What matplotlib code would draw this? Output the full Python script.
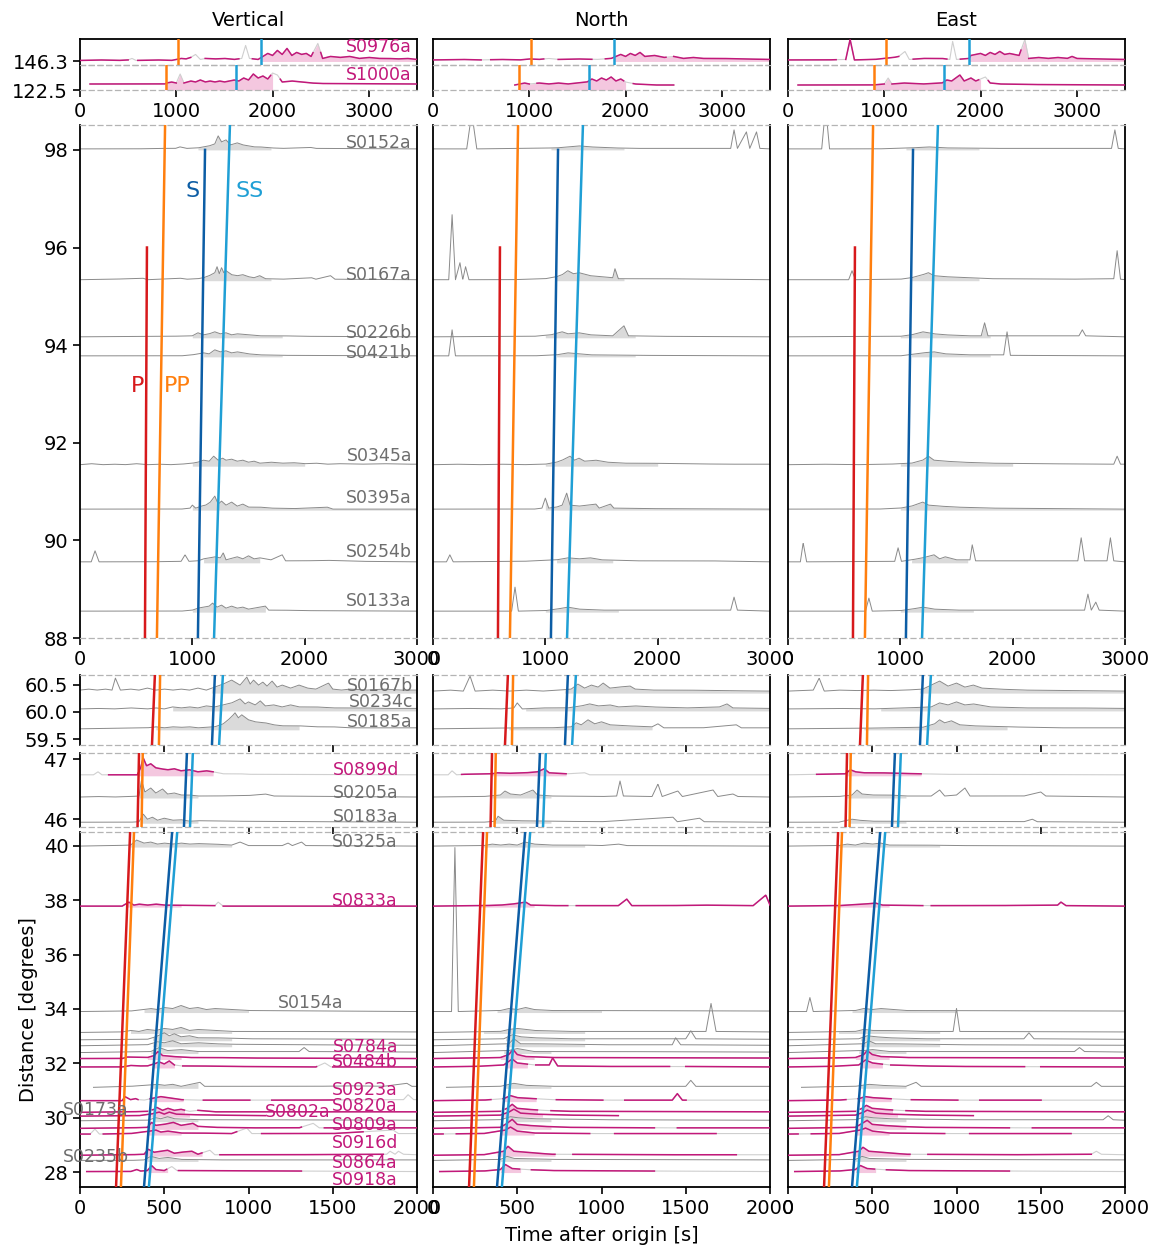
import numpy as np
import matplotlib.pyplot as plt

W, H = 1156, 1249
comps = ['Vertical', 'North', 'East']

# travel-time curves (distance [deg], time [s])
p_dist = [27.3, 40.6, 45.8, 47.2, 59.3, 60.8, 87.9, 96.0]
p_time = [213, 298, 341, 351, 426, 446, 578, 596]
pp_dist = [27.3, 40.6, 45.8, 47.2, 59.3, 60.8, 87.9, 98.6, 122.5, 146.3]
pp_time = [242, 321, 365, 373, 468, 476, 684, 758, 893, 1018]
s_dist = [27.3, 40.6, 45.8, 47.2, 59.3, 60.8, 87.9, 98.0]
s_time = [378, 548, 616, 636, 782, 802, 1049, 1113]
ss_dist = [27.3, 40.6, 45.8, 47.2, 59.3, 60.8, 87.9, 98.6, 122.5, 146.3]
ss_time = [407, 578, 652, 671, 824, 850, 1192, 1336, 1620, 1880]

# ---- top row (far events) ----
a_names = ['S0976a', 'S1000a']
a_dist = [146.3, 122.5]
a_good = [1, 1]
a_fill = [(1880, 3500), (880, 2000)]
a_valid = [[(0, 500), (600, 1150), (1300, 1650), (1790, 2420), (2500, 3500)],
           [(104, 1000), (1080, 1980), (2080, 3500)]]
a_vert = [
    [0, 1, 200, 1.5, 400, 1, 500, 1.5, 540, 3, 580, 1, 800, 1.5, 950, 1, 1000, 2, 1050, 3, 1100, 2.5, 1150, 4,
     1200, 7, 1250, 2, 1300, 3, 1400, 2.5, 1500, 3, 1600, 2, 1680, 3, 1720, 16, 1760, 3, 1850, 2, 1900, 5,
     1950, 8, 2000, 6, 2050, 11, 2100, 7, 2150, 13, 2200, 6, 2250, 9, 2300, 7, 2350, 8, 2400, 5, 2470, 18,
     2520, 3, 2600, 5, 2700, 4, 2800, 5, 2900, 3, 3000, 4, 3100, 3, 3200, 3, 3300, 2.5, 3400, 3, 3500, 2],
    [104, 6, 880, 6, 900, 7, 950, 8, 1000, 7, 1040, 16, 1080, 7, 1150, 9, 1200, 8, 1250, 10, 1300, 8,
     1350, 9, 1400, 8, 1450, 9, 1500, 8, 1550, 9, 1600, 10, 1650, 9, 1700, 12, 1750, 10, 1800, 16, 1850, 12,
     1900, 14, 1950, 11, 2000, 17, 2050, 15, 2100, 8, 2200, 9, 2300, 8, 2400, 7, 2500, 6.5, 3500, 6],
]
a_north = [
    [0, 1.5, 300, 2, 500, 1.5, 700, 2, 900, 1.5, 1000, 2.5, 1100, 2, 1200, 3, 1300, 2, 1500, 2.5, 1700, 2,
     1850, 3, 1900, 5, 1950, 7, 2000, 5, 2050, 8, 2100, 6, 2150, 9, 2200, 5, 2300, 6, 2400, 4, 2500, 5,
     2600, 3, 2700, 4, 2800, 3, 3000, 3, 3200, 2.5, 3500, 2],
    [850, 5, 900, 6, 950, 7, 1000, 6, 1100, 7, 1200, 6, 1300, 7, 1400, 6, 1500, 7, 1600, 8, 1650, 11,
     1700, 9, 1750, 12, 1800, 10, 1850, 13, 1900, 9, 1950, 11, 2000, 8, 2100, 6, 2300, 5, 2500, 5],
]
a_east = [
    [0, 1.5, 400, 1.5, 600, 2, 645, 22, 690, 1.5, 900, 2, 1000, 3, 1100, 4, 1150, 5, 1215, 10, 1260, 2,
     1400, 3, 1600, 3, 1680, 2, 1710, 20, 1750, 2, 1880, 3, 1900, 6, 1950, 7, 2000, 8, 2050, 6, 2100, 9,
     2150, 7, 2200, 10, 2250, 7, 2300, 8, 2400, 6, 2460, 22, 2500, 3, 2600, 4, 2700, 3, 2800, 4, 2900, 3,
     2950, 5, 3000, 3, 3200, 2.5, 3500, 2],
    [104, 5, 880, 5, 1000, 6, 1040, 12, 1080, 6, 1200, 7, 1400, 6, 1600, 7, 1650, 10, 1700, 9, 1785, 15,
     1830, 9, 1900, 12, 1950, 9, 2000, 11, 2050, 13, 2100, 7, 2200, 6, 2500, 5.5, 3500, 5],
]

# ---- 88-98 deg ----
b_names = ['S0152a', 'S0167a', 'S0226b', 'S0421b', 'S0345a', 'S0395a', 'S0254b', 'S0133a']
b_dist = [98.0, 95.32, 94.15, 93.76, 91.52, 90.62, 89.54, 88.53]
b_good = [0] * 8
b_fill = [(1050, 1700), (1100, 1700), (1000, 1800), (1100, 1800), (1000, 2000), (1000, 3000),
          (1100, 1600), (1000, 1650)]
b_vert = [
    [0, 1, 500, 1, 700, 1.5, 850, 1.5, 890, 3, 950, 1.5, 1050, 2, 1100, 3, 1150, 4, 1200, 6, 1230, 14, 1260, 8,
     1300, 10, 1340, 5, 1400, 7, 1450, 5, 1500, 4, 1550, 3, 1600, 3, 1700, 2, 1800, 1.5, 2050, 2.5, 2100, 1.5,
     3000, 1],
    [0, 1, 300, 1.5, 560, 2.5, 600, 1, 890, 2.5, 950, 1.5, 1050, 2, 1100, 3, 1150, 5, 1200, 8, 1220, 14,
     1240, 7, 1260, 13, 1280, 8, 1300, 10, 1350, 6, 1400, 5, 1450, 6, 1500, 4, 1550, 3, 1600, 5, 1650, 2,
     1800, 1.5, 2060, 3, 2100, 1.5, 2230, 5, 2270, 1.5, 3000, 1],
    [0, 1, 800, 1.5, 1000, 2, 1050, 5, 1100, 3, 1150, 4, 1200, 6, 1250, 4, 1300, 5, 1350, 3, 1400, 4,
     1500, 3, 1600, 2, 1800, 2, 2000, 1.5, 3000, 1],
    [0, 1, 900, 1, 1000, 2, 1100, 4, 1150, 3, 1200, 7, 1250, 5, 1300, 6, 1350, 4, 1400, 5, 1500, 3, 1600, 2,
     1800, 1.5, 3000, 1],
    [0, 1.5, 100, 2.5, 200, 1.5, 300, 2, 400, 1.5, 500, 2.5, 600, 1.5, 700, 2, 800, 1.5, 900, 2, 1000, 3,
     1050, 4, 1100, 6, 1150, 5, 1190, 10, 1230, 6, 1270, 8, 1300, 6, 1350, 7, 1400, 5, 1450, 6, 1500, 4,
     1550, 5, 1600, 3, 1700, 4, 1800, 3, 1900, 3.5, 2000, 2.5, 2100, 3, 2200, 2, 2300, 2.5, 2500, 2, 2700, 2.5,
     2900, 2, 3000, 2],
    [0, 1, 900, 1, 980, 2, 1000, 5, 1030, 2, 1080, 4, 1120, 5, 1160, 8, 1200, 14, 1230, 6, 1260, 9, 1300, 5,
     1350, 8, 1400, 4, 1450, 6, 1500, 3, 1600, 3, 1700, 2, 1900, 1.5, 2200, 3, 2250, 1, 3000, 1],
    [0, 1, 100, 1, 134, 12, 170, 1, 400, 1, 600, 1, 900, 1.5, 935, 8, 970, 1.5, 1050, 2, 1100, 4, 1150, 5,
     1200, 6, 1250, 5, 1275, 10, 1300, 3, 1400, 6, 1450, 4, 1500, 7, 1550, 4, 1600, 5, 1700, 3, 1800, 8,
     1830, 2, 2000, 2, 2200, 2.5, 2500, 1.5, 3000, 1],
    [0, 1, 900, 1, 1000, 2, 1050, 4, 1100, 5, 1150, 6, 1180, 9, 1220, 5, 1260, 7, 1300, 4, 1350, 6, 1400, 4,
     1450, 5, 1500, 3, 1550, 4, 1650, 6, 1680, 2, 1800, 2, 2000, 1.5, 3000, 1],
]
b_north = [
    [0, 1, 300, 1, 330, 25, 360, 25, 390, 1, 800, 1.5, 1100, 2, 1200, 3, 1300, 4, 1400, 3, 1600, 2, 1800, 1.5,
     2650, 1.5, 2680, 20, 2710, 1.5, 2790, 18, 2820, 1.5, 2880, 18, 2910, 1.5, 3000, 1],
    [0, 1, 140, 1, 170, 66, 200, 1, 240, 18, 265, 1, 290, 14, 320, 1, 700, 1, 1000, 2, 1100, 4, 1150, 6,
     1200, 10, 1250, 7, 1300, 8, 1400, 5, 1500, 4, 1600, 3, 1620, 12, 1650, 2, 2000, 2, 2500, 1.5, 3000, 1],
    [0, 1, 900, 1.5, 1050, 3, 1150, 6, 1200, 4, 1300, 5, 1400, 3, 1600, 2, 1700, 12, 1740, 2, 2000, 1.5,
     3000, 1],
    [0, 1, 140, 1, 170, 27, 200, 1, 900, 1, 1100, 2, 1200, 4, 1300, 3, 1400, 2, 1800, 1.5, 3000, 1],
    [0, 1.5, 200, 2, 400, 1.5, 600, 2, 800, 1.5, 1000, 2, 1100, 4, 1150, 6, 1220, 10, 1260, 6, 1300, 8,
     1350, 5, 1450, 6, 1550, 4, 1700, 3, 1900, 3, 2200, 2.5, 2600, 2, 3000, 2],
    [0, 1, 900, 1, 970, 2, 1000, 12, 1030, 2, 1100, 3, 1150, 5, 1190, 17, 1220, 5, 1300, 4, 1450, 6,
     1480, 2, 1580, 6, 1610, 2, 1900, 1.5, 3000, 1],
    [0, 1, 120, 1, 150, 8, 180, 1, 800, 1.5, 1100, 3, 1200, 5, 1300, 4, 1400, 5, 1500, 3, 1800, 2, 2450, 2,
     3000, 1],
    [0, 1, 700, 1, 730, 25, 760, 1, 1000, 1.5, 1100, 3, 1200, 5, 1300, 3, 1500, 2, 2650, 2, 2680, 15,
     2710, 2, 3000, 1],
]
b_east = [
    [0, 1, 300, 1, 320, 25, 350, 25, 370, 1, 800, 1, 1100, 2, 1250, 3, 1400, 2, 1800, 1.5, 2880, 1.5,
     2910, 20, 2940, 1.5, 3000, 1],
    [0, 1, 540, 1, 570, 10, 600, 1, 1000, 1.5, 1100, 3, 1200, 6, 1250, 8, 1300, 5, 1400, 4, 1600, 3,
     1800, 2, 2500, 1.5, 2900, 2, 2930, 30, 2960, 1.5, 3000, 1],
    [0, 1, 1000, 1.5, 1100, 3, 1200, 6, 1300, 4, 1400, 3, 1600, 2, 1720, 2, 1750, 15, 1780, 2, 2590, 2,
     2620, 8, 2650, 2, 3000, 1],
    [0, 1, 1000, 1, 1200, 4, 1300, 5, 1400, 3, 1600, 2, 1920, 2, 1950, 25, 1980, 1.5, 3000, 1],
    [0, 1.5, 300, 2, 600, 1.5, 900, 2, 1100, 3, 1200, 6, 1250, 10, 1300, 6, 1400, 5, 1550, 4, 1800, 3,
     2200, 2.5, 2900, 2, 2930, 10, 2960, 2, 3000, 2],
    [0, 1, 800, 1, 1000, 2, 1100, 4, 1150, 6, 1200, 8, 1250, 5, 1350, 4, 1500, 3, 1800, 2, 3000, 1],
    [0, 1, 110, 1, 135, 20, 165, 1, 950, 1.5, 980, 15, 1010, 1.5, 1100, 3, 1200, 5, 1300, 8, 1350, 4,
     1400, 6, 1500, 3, 1620, 3, 1640, 18, 1670, 2, 2000, 2, 2580, 2, 2610, 25, 2640, 2, 2840, 2, 2870, 25,
     2900, 2, 3000, 1],
    [0, 1, 690, 1, 720, 14, 750, 1, 1000, 1.5, 1100, 3, 1200, 5, 1300, 3, 1500, 2, 2640, 2, 2670, 18,
     2700, 2, 2740, 10, 2770, 2, 3000, 1],
]

# ---- ~60 deg ----
c_names = ['S0167b', 'S0234c', 'S0185a']
c_dist = [60.35, 60.02, 59.67]
c_good = [0, 0, 0]
c_fill = [(780, 2000), (550, 2000), (450, 1300)]
c_vert = [
    [0, 3, 50, 4, 100, 3, 150, 4, 190, 3, 210, 15, 240, 3, 300, 4, 350, 3, 400, 5, 450, 3, 500, 4, 550, 3,
     600, 4, 650, 3, 700, 5, 750, 3, 800, 6, 850, 9, 900, 13, 950, 8, 990, 16, 1010, 9, 1030, 13, 1060, 8,
     1085, 11, 1110, 7, 1140, 12, 1170, 6, 1200, 8, 1250, 5, 1300, 8, 1350, 5, 1400, 4, 1475, 10, 1500, 4,
     1550, 3, 1600, 4, 1700, 3, 1800, 4, 1900, 3, 2000, 3],
    [0, 2, 100, 2.5, 200, 2, 300, 3, 400, 2, 450, 3, 500, 2, 550, 4, 600, 3, 650, 4, 700, 3, 750, 5, 800, 4,
     850, 6, 900, 8, 950, 12, 980, 7, 1000, 9, 1040, 6, 1070, 10, 1100, 5, 1150, 6, 1200, 4, 1250, 6,
     1300, 4, 1400, 4, 1500, 3, 1600, 3, 1700, 3, 1800, 2.5, 2000, 2.5],
    [0, 1, 200, 1.5, 400, 2, 450, 3, 500, 2, 550, 3, 600, 2.5, 650, 3, 700, 2, 750, 2.5, 800, 3, 850, 6,
     880, 10, 905, 14, 920, 17, 940, 12, 960, 15, 1000, 10, 1040, 8, 1100, 7, 1150, 5, 1200, 4, 1300, 4,
     1400, 3, 1500, 3, 1600, 2, 2000, 2],
]
c_north = [
    [0, 2, 100, 3, 180, 2, 220, 17, 250, 2, 350, 3, 450, 2, 550, 3, 650, 2, 750, 3, 820, 4, 860, 9, 900, 5,
     940, 8, 980, 6, 1010, 10, 1050, 5, 1100, 6, 1170, 7, 1200, 4, 1300, 3, 1500, 3, 1700, 2.5, 2000, 2],
    [0, 2, 200, 2.5, 400, 2, 480, 3, 500, 8, 530, 2, 650, 3, 800, 3, 880, 5, 930, 7, 980, 5, 1050, 6,
     1100, 4, 1200, 5, 1300, 4, 1500, 3, 1700, 4, 1745, 7, 1780, 3, 2000, 2.5],
    [0, 1, 300, 1.5, 500, 2, 700, 2, 820, 3, 850, 7, 880, 5, 920, 10, 960, 6, 1000, 8, 1050, 5, 1150, 4,
     1300, 3, 1335, 6, 1370, 2, 1600, 2, 1800, 5, 1830, 2, 2000, 2],
]
c_east = [
    [0, 2, 150, 3, 185, 15, 215, 2, 300, 3, 400, 2.5, 500, 3, 600, 2.5, 700, 3, 800, 4, 850, 8, 900, 12,
     950, 7, 1000, 10, 1050, 6, 1100, 8, 1150, 5, 1250, 4, 1400, 3, 1700, 2.5, 2000, 2],
    [0, 2, 300, 2.5, 500, 2, 700, 3, 850, 4, 900, 8, 950, 6, 1000, 9, 1050, 6, 1100, 7, 1200, 4, 1400, 3,
     1700, 3, 2000, 2.5],
    [0, 1, 400, 1.5, 600, 2, 800, 2.5, 870, 6, 900, 10, 930, 7, 970, 9, 1020, 5, 1100, 4, 1300, 3, 1600, 2,
     2000, 2],
]

# ---- ~46-47 deg ----
d_names = ['S0899d', 'S0205a', 'S0183a']
d_dist = [46.72, 46.35, 45.93]
d_good = [1, 0, 0]
d_fill = [(350, 790), (350, 700), (360, 700)]
d_valid = [[(170, 790)], None, None]
d_vert = [
    [0, 1, 80, 1, 107, 4, 130, 1, 166, 1, 340, 1, 360, 8, 375, 18, 395, 10, 420, 12, 450, 8, 480, 7, 520, 6,
     560, 7, 600, 5, 650, 6, 700, 4, 750, 5, 790, 4, 850, 2, 950, 2, 1000, 1.5, 2000, 1],
    [0, 1, 100, 1.5, 200, 1, 300, 1.5, 350, 2, 365, 18, 385, 6, 420, 10, 450, 5, 490, 9, 520, 4, 560, 5,
     600, 3, 650, 3, 700, 2, 800, 2, 1000, 2.5, 1100, 4, 1150, 2, 1500, 1.5, 2000, 1],
    [0, 1, 300, 1, 350, 1.5, 376, 9, 400, 4, 430, 6, 460, 3, 500, 5, 550, 3, 600, 3.5, 650, 2, 700, 2.5,
     900, 2, 1500, 1.5, 2000, 1],
]
d_north = [
    [0, 1, 90, 1, 113, 5, 140, 1, 178, 1.5, 350, 2, 380, 3, 450, 2.5, 550, 3, 620, 4, 660, 7, 690, 3,
     795, 2, 900, 3, 930, 1, 2000, 1],
    [0, 1, 300, 1.5, 400, 3, 427, 7, 460, 4, 520, 3, 593, 8, 620, 3, 700, 2, 1000, 1.5, 1090, 2, 1110, 17,
     1130, 2, 1300, 1.5, 1335, 14, 1360, 1.5, 1453, 7, 1480, 1.5, 1662, 8, 1690, 1.5, 1780, 4, 1810, 1.5,
     2000, 1],
    [0, 1, 300, 1, 370, 2, 386, 7, 420, 3, 500, 2.5, 700, 2, 1000, 1.5, 1424, 6, 1450, 1.5, 1582, 5,
     1610, 1.5, 2000, 1],
]
d_east = [
    [0, 1, 178, 1.5, 340, 2, 370, 6, 400, 4, 450, 3, 550, 3, 650, 2.5, 784, 2, 900, 1.5, 2000, 1],
    [0, 1, 300, 1.5, 380, 3, 410, 8, 440, 4, 500, 3, 600, 3, 700, 2, 850, 2, 900, 8, 930, 2, 1000, 3,
     1050, 10, 1080, 2, 1200, 2, 1400, 2, 1500, 6, 1530, 2, 2000, 1],
    [0, 1, 300, 1, 380, 4, 420, 3, 500, 2, 700, 2, 1400, 1.5, 1450, 4, 1480, 1.5, 2000, 1],
]

# ---- 28-40 deg ----
e_names = ['S0325a', 'S0833a', 'S0154a', '', '', '', '', 'S0784a', 'S0484b', '', 'S0923a', 'S0820a',
           'S0802a', 'S0173a', 'S0809a', 'S0916d', 'S0864a', 'S0235b', 'S0918a']
e_dist = [39.96, 37.75, 33.87, 33.1, 32.83, 32.61, 32.36, 32.14, 31.83, 31.08, 30.59, 30.16,
          30.02, 29.85, 29.57, 29.36, 28.58, 28.39, 27.98]
e_good = [0, 1, 0, 0, 0, 0, 0, 1, 1, 0, 1, 1, 1, 0, 1, 1, 1, 0, 1]
e_fill = [(300, 900), (280, 600), (380, 1000), (300, 900), (430, 900), (430, 900), (420, 700),
          (400, 600), (430, 560), (430, 700), (420, 613), (430, 620), (420, 650), (430, 700),
          (400, 700), (400, 600), (380, 725), (400, 700), (400, 520)]
e_valid = [None, [(0, 800), (850, 2000)], None, None, None, None, None, [(0, 2000)],
           [(0, 560), (610, 1405), (1500, 2000)], None,
           [(0, 345), (415, 613), (731, 1009), (1137, 1502)], [(0, 400), (430, 620), (700, 2000)],
           [(0, 1100)], None, [(0, 1315), (1450, 2000)], [(0, 60), (138, 930), (1078, 1680)],
           [(0, 725), (830, 1800)], None, [(40, 515), (583, 1315)]]
e_vert = [
    [0, 1, 200, 1.5, 300, 2, 336, 7, 380, 4, 420, 5, 460, 3, 500, 4, 550, 3, 600, 4, 650, 3, 700, 3.5,
     800, 3, 900, 2, 950, 5, 1000, 1.5, 1200, 1.5, 1235, 4, 1260, 1.5, 1315, 5, 1340, 1.5, 2000, 1],
    [0, 1, 250, 1, 290, 5, 320, 2, 350, 3, 400, 2, 450, 3, 500, 2, 800, 1.5, 820, 5, 850, 1, 2000, 1],
    [0, 1, 300, 1.5, 380, 3, 420, 4, 460, 3, 500, 5, 550, 4, 600, 7, 650, 4, 700, 5, 750, 3, 800, 4,
     900, 3, 1000, 2, 1500, 1.5, 2000, 1],
    [0, 1, 250, 1.5, 300, 3, 350, 2, 400, 4, 450, 3, 500, 5, 550, 4, 600, 6, 650, 3, 700, 4, 800, 3,
     900, 2, 1300, 2, 2000, 1.5],
    [0, 1, 400, 1.5, 450, 4, 500, 8, 530, 5, 560, 7, 600, 4, 650, 5, 700, 3, 800, 3, 1000, 2, 2000, 1.5],
    [0, 1, 400, 2, 460, 5, 500, 4, 550, 6, 600, 3, 700, 4, 800, 3, 900, 2.5, 1300, 2, 2000, 1.5],
    [0, 1, 420, 2, 470, 6, 520, 3, 600, 4, 700, 2, 1300, 2, 1330, 6, 1360, 2, 2000, 1.5],
    [0, 1, 250, 1, 280, 2.5, 400, 2, 440, 4, 463, 8, 490, 4, 550, 3, 650, 2, 800, 2, 1000, 1.5, 2000, 1],
    [0, 1, 250, 1, 300, 2.5, 350, 2, 400, 2, 440, 4, 470, 6, 500, 4, 530, 7, 560, 3, 600, 2, 700, 2,
     900, 1.5, 1400, 1, 1453, 5, 1490, 1, 2000, 1],
    [80, 1, 300, 2, 460, 4, 500, 3, 550, 4, 600, 2, 712, 6, 740, 2, 1000, 2, 1400, 2, 1600, 2.5, 1800, 2,
     1940, 5, 1970, 2, 2000, 2],
    [0, 1, 250, 1, 267, 5, 300, 2, 330, 3, 345, 2, 380, 1.5, 420, 3, 450, 4, 480, 5, 520, 4, 560, 3,
     600, 2, 700, 1.5, 1300, 1.5, 1920, 2, 1947, 7, 1980, 2, 2000, 2],
    [0, 1, 300, 1.5, 400, 2, 440, 4, 455, 6, 490, 3, 522, 5, 560, 3, 600, 4, 650, 2, 700, 3, 800, 1.5,
     2000, 1.5],
    [0, 1, 350, 1.5, 420, 3, 470, 5, 500, 3, 530, 5, 570, 3, 650, 2.5, 800, 2, 1100, 1.5],
    [0, 1, 400, 1.5, 450, 4, 480, 3, 520, 5, 560, 3, 700, 2, 1000, 2, 2000, 1.5],
    [0, 1, 300, 1.5, 400, 2, 425, 7, 450, 4, 500, 5, 553, 7, 600, 4, 640, 5, 670, 6, 700, 3, 800, 2,
     1000, 1.5, 1300, 1.5, 1384, 6, 1420, 1.5, 2000, 1.5],
    [0, 1, 60, 1, 89, 6, 115, 1, 300, 1.5, 420, 4, 450, 5, 480, 3, 520, 4, 600, 2, 700, 2, 900, 1.5,
     990, 7, 1020, 1.5, 1500, 1.5, 1858, 5, 1890, 1.5, 2000, 1.5],
    [0, 1, 300, 1.5, 380, 2, 405, 7, 440, 4, 480, 5, 520, 6, 560, 3, 600, 4, 664, 5, 700, 2, 771, 6,
     800, 1.5, 1200, 1.5, 1820, 2, 1840, 5, 1870, 2, 1890, 5, 1920, 2, 2000, 1.5],
    [0, 1, 300, 1, 380, 1.5, 420, 5, 470, 3, 520, 4, 600, 2, 800, 1.5, 2000, 1.5],
    [40, 1, 300, 1, 337, 3, 360, 1.5, 400, 2, 425, 7, 450, 3, 500, 2, 545, 6, 575, 2, 1315, 1.5, 2000, 1],
]
e_north = [
    [0, 1, 300, 1.5, 350, 3, 400, 2, 450, 3, 500, 2, 546, 5, 600, 3, 700, 2, 900, 2, 1000, 1.5, 1100, 3,
     1150, 1.5, 2000, 1],
    [0, 1, 300, 1.5, 400, 2, 470, 3, 550, 5, 580, 2, 700, 1.5, 1100, 1.5, 1150, 8, 1180, 1.5, 1400, 1.5,
     1600, 2, 1900, 1.5, 1975, 12, 2000, 2],
    [0, 1, 110, 1, 130, 165, 150, 1, 400, 2, 450, 4, 500, 3, 550, 5, 600, 3, 700, 2, 900, 2, 2000, 1.5],
    [0, 1, 400, 2, 450, 4, 500, 5, 600, 3, 800, 2, 1620, 2, 1650, 30, 1680, 2, 2000, 1.5],
    [0, 1, 420, 2, 470, 6, 520, 4, 600, 3, 800, 2, 1500, 2, 1530, 10, 1560, 2, 2000, 1.5],
    [0, 1, 450, 3, 480, 8, 520, 3, 600, 3, 1000, 2, 1420, 2, 1440, 9, 1470, 2, 2000, 1.5],
    [0, 1, 450, 3, 500, 5, 600, 2, 1000, 2, 2000, 1.5],
    [0, 1, 250, 1.5, 400, 2, 450, 5, 475, 10, 500, 5, 550, 3, 700, 2, 2000, 1.5],
    [0, 1, 250, 1.5, 420, 3, 470, 9, 500, 5, 550, 4, 600, 3, 690, 3, 710, 10, 740, 2, 1000, 1.5, 1500, 1.5,
     2000, 1],
    [80, 1, 400, 2, 480, 5, 550, 3, 700, 2, 1200, 2, 1500, 2, 1530, 8, 1560, 2, 2000, 2],
    [0, 1, 300, 1.5, 420, 3, 460, 6, 500, 4, 600, 3, 700, 2, 1000, 1.5, 1420, 1.5, 1450, 8, 1480, 1.5,
     2000, 1.5],
    [0, 1, 400, 2, 440, 5, 470, 9, 500, 5, 560, 4, 650, 3, 800, 2, 2000, 1.5],
    [0, 1, 400, 2, 450, 5, 480, 8, 520, 4, 600, 3, 800, 2, 1100, 1.5],
    [0, 1, 400, 2, 460, 5, 500, 4, 600, 3, 1000, 2, 2000, 1.5],
    [0, 1, 400, 2, 440, 6, 470, 10, 500, 5, 560, 4, 650, 3, 800, 2, 1300, 1.5, 2000, 1.5],
    [0, 1, 300, 1.5, 430, 5, 460, 8, 500, 4, 600, 2, 900, 1.5, 1700, 1.5, 2000, 1.5],
    [0, 1, 300, 1.5, 420, 5, 445, 10, 480, 5, 550, 4, 700, 2, 1300, 1.5, 2000, 1.5],
    [0, 1, 400, 2, 440, 5, 480, 3, 700, 2, 2000, 1.5],
    [40, 1, 300, 1.5, 400, 3, 430, 8, 470, 4, 550, 3, 700, 2, 1315, 1.5, 2000, 1],
]
e_east = [
    [0, 1, 300, 1.5, 350, 3, 400, 2, 450, 4, 500, 3, 550, 4, 600, 2, 800, 2, 1000, 1.5, 2000, 1],
    [0, 1, 300, 1.5, 450, 3, 520, 4, 560, 2, 800, 1.5, 1200, 1.5, 1600, 2, 1620, 5, 1650, 1.5, 2000, 1],
    [0, 1, 110, 1, 130, 15, 150, 1, 400, 2, 450, 4, 500, 3, 550, 4, 700, 2, 2000, 1.5],
    [0, 1, 400, 2, 450, 4, 500, 3, 600, 3, 800, 2, 980, 2, 1000, 25, 1020, 2, 2000, 1.5],
    [0, 1, 420, 2, 470, 5, 520, 4, 600, 3, 800, 2, 1400, 2, 1430, 8, 1460, 2, 2000, 1.5],
    [0, 1, 450, 3, 480, 6, 520, 3, 600, 3, 1000, 2, 2000, 1.5],
    [0, 1, 450, 3, 500, 4, 600, 2, 1000, 2, 1700, 2, 1730, 6, 1760, 2, 2000, 1.5],
    [0, 1, 250, 1.5, 400, 2, 450, 5, 470, 9, 500, 5, 550, 3, 700, 2, 2000, 1.5],
    [0, 1, 250, 1.5, 420, 3, 460, 8, 500, 5, 550, 4, 600, 3, 800, 2, 1000, 1.5, 2000, 1],
    [80, 1, 400, 2, 480, 4, 550, 3, 700, 2, 760, 6, 790, 2, 1500, 2, 1800, 2, 1830, 6, 1860, 2, 2000, 2],
    [0, 1, 300, 1.5, 420, 3, 460, 5, 500, 4, 600, 3, 700, 2, 1000, 1.5, 2000, 1.5],
    [0, 1, 400, 2, 440, 5, 465, 8, 500, 5, 560, 4, 650, 3, 800, 2, 2000, 1.5],
    [0, 1, 400, 2, 450, 5, 470, 7, 520, 4, 600, 3, 800, 2, 1100, 1.5],
    [0, 1, 400, 2, 460, 5, 500, 4, 600, 3, 1000, 2, 1870, 2, 1900, 6, 1930, 2, 2000, 1.5],
    [0, 1, 400, 2, 440, 6, 470, 9, 500, 5, 560, 4, 650, 3, 800, 2, 1300, 1.5, 2000, 1.5],
    [0, 1, 300, 1.5, 430, 5, 460, 7, 500, 4, 600, 2, 900, 1.5, 1700, 1.5, 2000, 1.5],
    [0, 1, 300, 1.5, 420, 5, 445, 9, 480, 5, 550, 4, 700, 2, 1300, 1.5, 1800, 2, 1830, 5, 1860, 2, 2000, 1.5],
    [0, 1, 400, 2, 440, 5, 480, 3, 700, 2, 2000, 1.5],
    [40, 1, 300, 1.5, 400, 3, 430, 7, 470, 4, 550, 3, 700, 2, 1315, 1.5, 2000, 1],
]

# label positions (degrees / seconds) for the names
a_lab = [146.87, 123.09]
b_lab = [98.14, 95.44, 94.25, 93.84, 91.73, 90.87, 89.76, 88.76]
c_lab = [60.48, 60.185, 59.815]
d_lab = [46.817, 46.433, 46.033]
e_lab = [40.15, 37.98, 34.22, 0, 0, 0, 0, 32.6, 32.05, 0, 31.02, 30.43, 30.21, 30.28, 29.73, 29.07,
         28.33, 28.55, 27.71]
e_lab_t = [1887, 1887, 1561, 0, 0, 0, 0, 1887, 1887, 0, 1887, 1887, 1484, -101, 1887, 1887, 1887, -101, 1887]

P_COL, PP_COL, S_COL, SS_COL = '#d7191c', '#ff7f0e', '#0c5da5', '#1f9fd5'
MAG, MAG_FILL = '#c2187a', '#f4c7df'
GREY, GREY_FILL, GLITCH = '#8a8a8a', '#dadada', '#cfcfcf'
LAB_GREY = '#6e6e6e'
DASH = '#b4b4b4'
TICK_FS, NAME_FS = 14, 12.5


def draw_trace(ax, bp, base, scale, good, fill_win, valid):
    bp = np.array(bp, float).reshape(-1, 2)
    tg = np.arange(bp[0, 0], bp[-1, 0] + 1, 2.0)
    y = base + np.interp(tg, bp[:, 0], bp[:, 1]) * scale
    m = (tg >= fill_win[0]) & (tg <= fill_win[1])
    ax.fill_between(tg, base, y, where=m, color=MAG_FILL if good else GREY_FILL, lw=0, zorder=1)
    if good:
        ax.plot(tg, y, color=GLITCH, lw=0.8, zorder=2)
        keep = np.zeros_like(tg, dtype=bool)
        for a, b in (valid or [(tg[0], tg[-1])]):
            keep |= (tg >= a) & (tg <= b)
        ax.plot(tg, np.where(keep, y, np.nan), color=MAG, lw=1.1, zorder=3)
    else:
        ax.plot(tg, y, color=GREY, lw=0.7, zorder=2)


def style(ax, top_solid=False, bottom_solid=False):
    for s in ['left', 'right']:
        ax.spines[s].set_linewidth(1.3)
    for s, solid in [('top', top_solid), ('bottom', bottom_solid)]:
        if solid:
            ax.spines[s].set_linewidth(1.3)
        else:
            ax.spines[s].set_color(DASH)
            ax.spines[s].set_linestyle((0, (4, 3)))
            ax.spines[s].set_linewidth(0.9)
    ax.tick_params(labelsize=TICK_FS, width=1.2, length=5)
    ax.set_facecolor('none')


fig = plt.figure(figsize=(W / 100, H / 100), dpi=100)
col_x = [80, 433, 788]
col_w = 337


def make_ax(c, top, bot):
    return fig.add_axes([col_x[c] / W, 1 - bot / H, col_w / W, (bot - top) / H])


def phase_lines(ax):
    for dd, tt, cc in [(p_dist, p_time, P_COL), (pp_dist, pp_time, PP_COL),
                       (s_dist, s_time, S_COL), (ss_dist, ss_time, SS_COL)]:
        ax.plot(tt, dd, color=cc, lw=1.8, zorder=6)


for c in range(3):
    first = c == 0
    # --- top: two far events, one strip each
    a_axes = [make_ax(c, 39, 64.5), make_ax(c, 64.5, 90)]
    a_ylim = [(146.18, 147.18), (122.5, 123.5)]
    a_data = [a_vert, a_north, a_east][c]
    for i, ax in enumerate(a_axes):
        draw_trace(ax, a_data[i], a_dist[i], 1 / 25.5, a_good[i], a_fill[i], a_valid[i])
        for dd, tt, cc in [(pp_dist, pp_time, PP_COL), (ss_dist, ss_time, SS_COL)]:
            ax.axvline(np.interp(a_dist[i], dd, tt), color=cc, lw=1.8, zorder=6)
        ax.set_xlim(0, 3500)
        ax.set_ylim(*a_ylim[i])
        style(ax, top_solid=(i == 0))
        ax.set_yticks([a_dist[i]] if first else [])
        ax.set_yticklabels(['%.1f' % a_dist[i]] if first else [])
        if first:
            ax.text(3448, a_lab[i], a_names[i], color=MAG, fontsize=NAME_FS, ha='right', va='center', zorder=7)
        if i == 0:
            ax.set_xticks([])
            ax.set_title(comps[c], fontsize=14, pad=9)
        else:
            ax.set_xticks([0, 1000, 2000, 3000])

    # --- 88-98.5 deg
    ax = make_ax(c, 125, 638)
    data = [b_vert, b_north, b_east][c]
    for i in range(len(b_names)):
        draw_trace(ax, data[i], b_dist[i], 1 / 48.8, b_good[i], b_fill[i], None)
        if first:
            ax.text(2955, b_lab[i], b_names[i], color=LAB_GREY, fontsize=NAME_FS, ha='right', va='center',
                    zorder=7)
    phase_lines(ax)
    ax.set_xlim(0, 3000)
    ax.set_ylim(88, 98.51)
    style(ax)
    ax.set_xticks([0, 1000, 2000, 3000])
    ax.set_yticks([88, 90, 92, 94, 96, 98] if first else [])
    if first:
        ax.text(516, 93.16, 'P', color=P_COL, fontsize=16, ha='center', va='center')
        ax.text(863, 93.16, 'PP', color=PP_COL, fontsize=16, ha='center', va='center')
        ax.text(1006, 97.15, 'S', color=S_COL, fontsize=16, ha='center', va='center')
        ax.text(1513, 97.15, 'SS', color=SS_COL, fontsize=16, ha='center', va='center')

    # --- ~60 deg
    ax = make_ax(c, 675, 745)
    data = [c_vert, c_north, c_east][c]
    for i in range(len(c_names)):
        draw_trace(ax, data[i], c_dist[i], 1 / 54, c_good[i], c_fill[i], None)
        if first:
            ax.text(1976, c_lab[i], c_names[i], color=LAB_GREY, fontsize=NAME_FS, ha='right', va='center',
                    zorder=7)
    phase_lines(ax)
    ax.set_xlim(0, 2000)
    ax.set_ylim(59.389, 60.685)
    style(ax)
    ax.set_xticks([500, 1000, 1500])
    ax.set_xticklabels([])
    ax.set_yticks([59.5, 60.0, 60.5] if first else [])
    if first:
        ax.set_yticklabels(['59.5', '60.0', '60.5'])

    # --- ~46-47 deg
    ax = make_ax(c, 753, 827)
    data = [d_vert, d_north, d_east][c]
    for i in range(len(d_names)):
        draw_trace(ax, data[i], d_dist[i], 1 / 60, d_good[i], d_fill[i], d_valid[i])
        if first:
            ax.text(1893, d_lab[i], d_names[i], color=MAG if d_good[i] else LAB_GREY, fontsize=NAME_FS,
                    ha='right', va='center', zorder=7)
    phase_lines(ax)
    ax.set_xlim(0, 2000)
    ax.set_ylim(45.867, 47.1)
    style(ax)
    ax.set_xticks([500, 1000, 1500])
    ax.set_xticklabels([])
    ax.set_yticks([46, 47] if first else [])

    # --- 28-40 deg
    ax = make_ax(c, 832, 1187)
    data = [e_vert, e_north, e_east][c]
    for i in range(len(e_names)):
        draw_trace(ax, data[i], e_dist[i], 1 / 27.17, e_good[i], e_fill[i], e_valid[i])
        if first and e_names[i]:
            ax.text(e_lab_t[i], e_lab[i], e_names[i], color=MAG if e_good[i] else LAB_GREY, fontsize=NAME_FS,
                    ha='left' if e_lab_t[i] < 0 else 'right', va='center', zorder=7, clip_on=False)
    phase_lines(ax)
    ax.set_xlim(0, 2000)
    ax.set_ylim(27.448, 40.515)
    style(ax, bottom_solid=True)
    ax.set_xticks([0, 500, 1000, 1500, 2000])
    ax.set_yticks([28, 30, 32, 34, 36, 38, 40] if first else [])
    if first:
        ax.set_ylabel('Distance [degrees]', fontsize=14)
    if c == 1:
        ax.set_xlabel('Time after origin [s]', fontsize=14, labelpad=6)

fig.savefig('out.png', dpi=100)
